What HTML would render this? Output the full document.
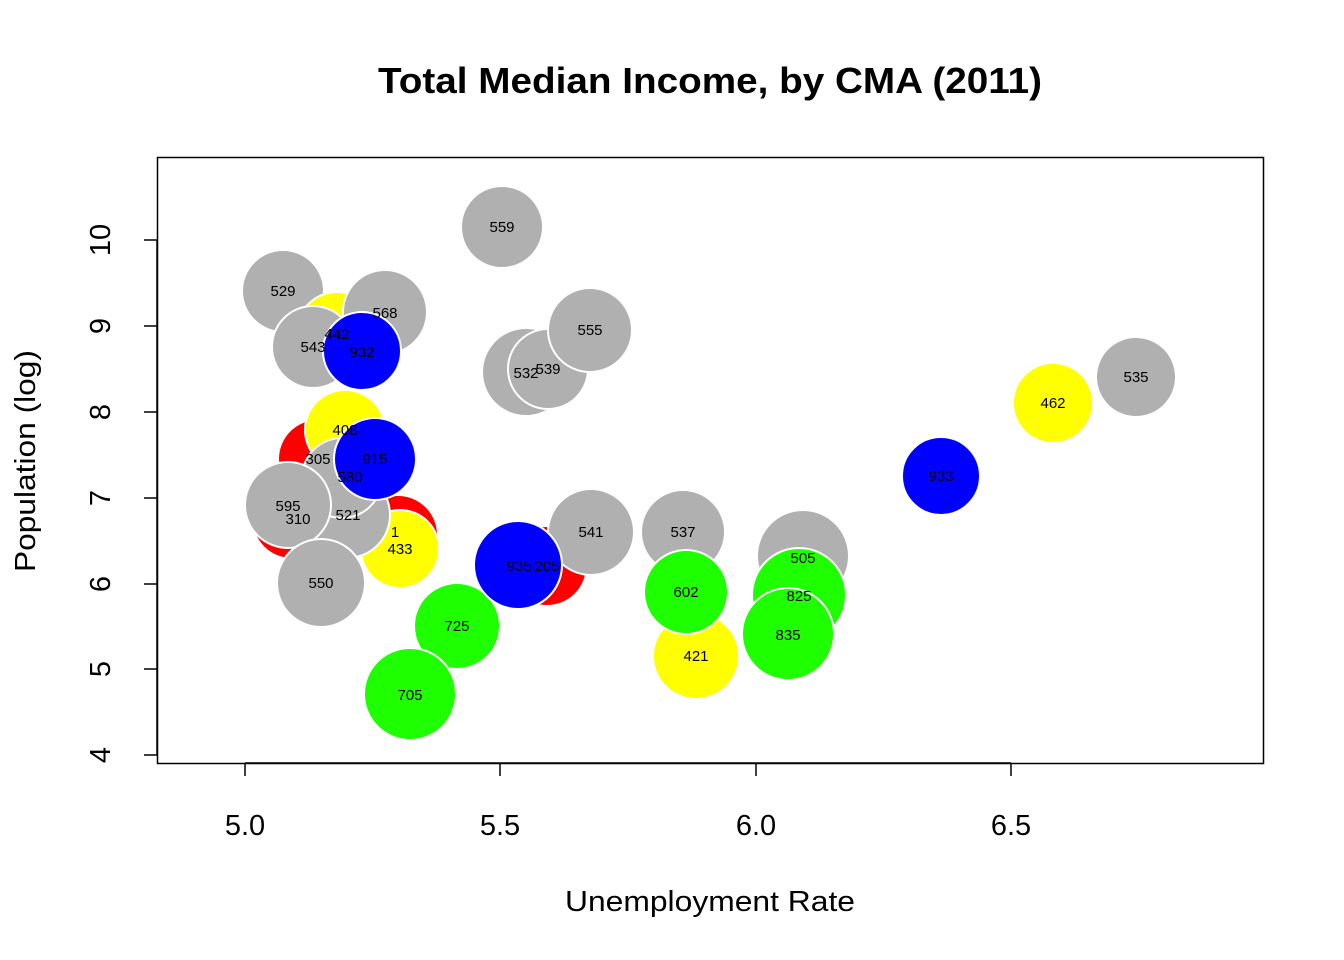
<!DOCTYPE html>
<html><head><meta charset="utf-8"><style>body{margin:0;background:#fff}svg{display:block}</style></head>
<body>
<svg width="1344" height="960" xmlns="http://www.w3.org/2000/svg" font-family="Liberation Sans, Arial, sans-serif">
<rect width="1344" height="960" fill="#fff"/>
<text x="710" y="93" text-anchor="middle" font-size="36" font-weight="bold" textLength="664" lengthAdjust="spacingAndGlyphs">Total Median Income, by CMA (2011)</text>
<g stroke="#fff" stroke-width="2">
<circle cx="283" cy="291" r="41" fill="#b0b0b0"/>
<circle cx="337" cy="332" r="40" fill="#ffff00"/>
<circle cx="385" cy="312" r="42" fill="#b0b0b0"/>
<circle cx="313" cy="347" r="41" fill="#b0b0b0"/>
<circle cx="362" cy="351" r="39" fill="#0000ff"/>
<circle cx="318" cy="459" r="40" fill="#ff0000"/>
<circle cx="345" cy="430" r="40" fill="#ffff00"/>
<circle cx="398" cy="535" r="40" fill="#ff0000"/>
<circle cx="292" cy="519" r="40" fill="#ff0000"/>
<circle cx="400" cy="549" r="39" fill="#ffff00"/>
<circle cx="347" cy="515" r="43" fill="#b0b0b0"/>
<circle cx="342" cy="478" r="40" fill="#b0b0b0"/>
<circle cx="375" cy="459" r="41" fill="#0000ff"/>
<circle cx="288" cy="505" r="43" fill="#b0b0b0"/>
<circle cx="321" cy="583" r="44" fill="#b0b0b0"/>
<circle cx="457" cy="626" r="43" fill="#1eff00"/>
<circle cx="410" cy="694" r="46" fill="#1eff00"/>
<circle cx="502" cy="227" r="41" fill="#b0b0b0"/>
<circle cx="526" cy="372" r="44" fill="#b0b0b0"/>
<circle cx="548" cy="369" r="40" fill="#b0b0b0"/>
<circle cx="590" cy="330" r="42" fill="#b0b0b0"/>
<circle cx="547" cy="566" r="40" fill="#ff0000"/>
<circle cx="591" cy="532" r="43" fill="#b0b0b0"/>
<circle cx="518" cy="565" r="44" fill="#0000ff"/>
<circle cx="683" cy="532" r="42" fill="#b0b0b0"/>
<circle cx="696" cy="656" r="43" fill="#ffff00"/>
<circle cx="686" cy="592" r="42" fill="#1eff00"/>
<circle cx="803" cy="556" r="46" fill="#b0b0b0"/>
<circle cx="799" cy="595" r="47" fill="#1eff00"/>
<circle cx="788" cy="634" r="46" fill="#1eff00"/>
<circle cx="941" cy="476" r="39" fill="#0000ff"/>
<circle cx="1053" cy="403" r="40" fill="#ffff00"/>
<circle cx="1136" cy="377" r="40" fill="#b0b0b0"/>
</g>
<g font-size="15" text-anchor="middle" fill="#000">
<text x="283" y="296">529</text><text x="337" y="339">442</text><text x="385" y="318">568</text>
<text x="313" y="352">543</text><text x="362" y="357">932</text><text x="318" y="464">305</text>
<text x="345" y="435">408</text><text x="395" y="537">1</text><text x="400" y="554">433</text>
<text x="348" y="520">521</text><text x="350" y="482">580</text><text x="375" y="464">915</text>
<text x="288" y="511">595</text><text x="298" y="524">310</text><text x="321" y="588">550</text>
<text x="457" y="631">725</text><text x="410" y="700">705</text><text x="502" y="232">559</text>
<text x="526" y="378">532</text><text x="548" y="374">539</text><text x="590" y="335">555</text>
<text x="591" y="537">541</text><text x="547" y="571">205</text><text x="519" y="571">935</text>
<text x="683" y="537">537</text><text x="696" y="661">421</text><text x="686" y="597">602</text>
<text x="803" y="563">505</text><text x="799" y="601">825</text><text x="788" y="640">835</text>
<text x="941" y="481">933</text><text x="1053" y="408">462</text><text x="1136" y="382">535</text>
</g>
<rect x="157.5" y="157.5" width="1106" height="606" fill="none" stroke="#000" stroke-width="1.5"/>
<g stroke="#000" stroke-width="1.5">
<line x1="245" y1="763" x2="1011" y2="763"/>
<line x1="245" y1="763" x2="245" y2="776"/><line x1="500" y1="763" x2="500" y2="776"/>
<line x1="756" y1="763" x2="756" y2="776"/><line x1="1011" y1="763" x2="1011" y2="776"/>
<line x1="157" y1="240" x2="157" y2="755"/>
<line x1="144" y1="240" x2="157" y2="240"/><line x1="144" y1="326" x2="157" y2="326"/>
<line x1="144" y1="412" x2="157" y2="412"/><line x1="144" y1="498" x2="157" y2="498"/>
<line x1="144" y1="584" x2="157" y2="584"/><line x1="144" y1="669" x2="157" y2="669"/>
<line x1="144" y1="755" x2="157" y2="755"/>
</g>
<g font-size="29" text-anchor="middle">
<text x="245" y="835">5.0</text><text x="500" y="835">5.5</text><text x="756" y="835">6.0</text><text x="1011" y="835">6.5</text>
<text x="710" y="911" textLength="290" lengthAdjust="spacingAndGlyphs">Unemployment Rate</text>
<text transform="translate(110,240) rotate(-90)">10</text>
<text transform="translate(110,326) rotate(-90)">9</text>
<text transform="translate(110,412) rotate(-90)">8</text>
<text transform="translate(110,498) rotate(-90)">7</text>
<text transform="translate(110,584) rotate(-90)">6</text>
<text transform="translate(110,669) rotate(-90)">5</text>
<text transform="translate(110,755) rotate(-90)">4</text>
<text transform="translate(35,461) rotate(-90)" textLength="222" lengthAdjust="spacingAndGlyphs">Population (log)</text>
</g>
</svg>
</body></html>
